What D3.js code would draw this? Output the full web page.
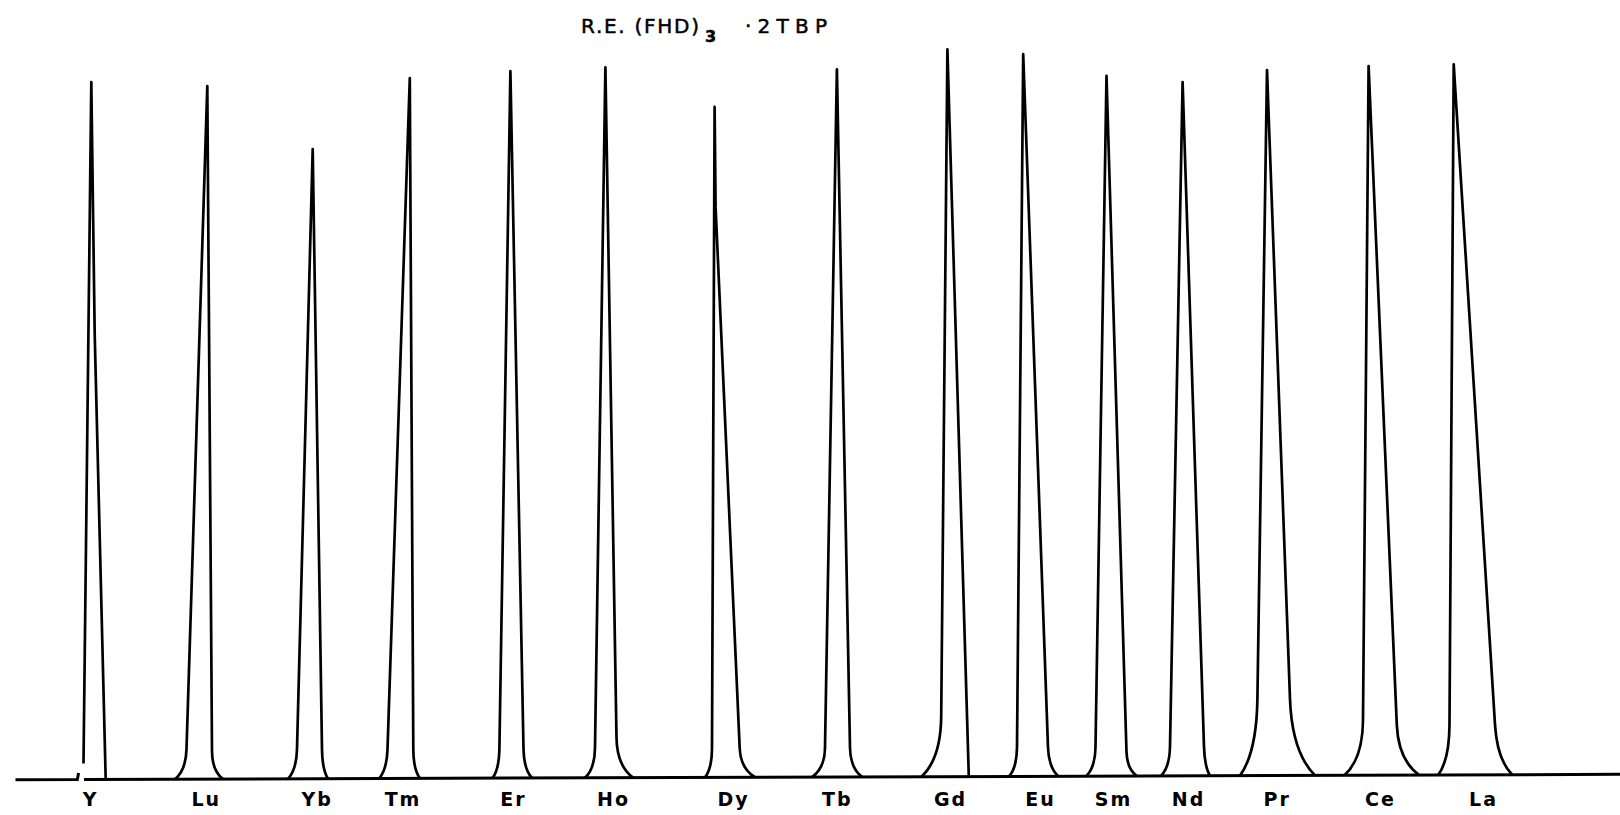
<!DOCTYPE html>
<html>
<head>
<meta charset="utf-8">
<script src="https://cdn.jsdelivr.net/npm/d3@7"></script>
<style>
  body { margin: 0; background: #fff; }
</style>
</head>
<body>
<div id="chart"></div>
<script>
// elution order of the rare earth chelates
const elements = ["Y", "Lu", "Yb", "Tm", "Er", "Ho", "Dy", "Tb", "Gd", "Eu", "Sm", "Nd", "Pr", "Ce", "La"];

// peak apex (retention, arbitrary units) and height (% of the Gd peak)
const apexPos = [9.13, 20.73, 31.27, 40.98, 51.04, 60.54, 71.46, 83.69, 94.74, 102.32, 110.65, 118.26, 126.7, 136.86, 145.37];
const apexHeight = [95.8, 95.2, 86.5, 96.2, 97.1, 97.6, 92.1, 97.2, 99.9, 99.2, 96.2, 95.3, 96.9, 97.4, 97.6];

// where each trace leaves and rejoins the baseline
const leftFoot = [8.35, 17.5, 28.8, 37.9, 49.25, 58.5, 70.5, 81.2, 92.16, 100.9, 108.62, 116.1, 124.0, 134.45, 143.82];
const leftFootHeight = [2.2, 0, 0, 0, 0, 0, 0, 0, 0, 0, 0, 0, 0, 0, 0];
const rightFoot = [10.57, 22.3, 32.8, 42.0, 53.2, 63.3, 75.5, 86.2, 96.88, 105.83, 113.68, 121.0, 131.5, 141.92, 151.22];

// shoulders where the tails bend into the straight flanks
const leftShoulderPos = [8.35, 18.65, 29.7, 38.75, 49.94, 59.5, 71.2, 82.5, 94.12, 101.7, 109.55, 117.0, 125.74, 136.3, 144.95];
const leftShoulderHeight = [2.2, 4.1, 4.1, 4.0, 4.0, 4.1, 4.0, 4.0, 8.3, 4.0, 4.0, 4.0, 10.5, 7.6, 6.9];
const rightShoulderPos = [10.57, 21.2, 32.2, 41.33, 52.35, 61.65, 73.97, 85.0, 96.88, 104.8, 112.65, 120.4, 129.0, 139.68, 149.5];
const rightShoulderHeight = [0, 3.8, 4.0, 4.0, 4.0, 5.5, 4.0, 4.0, 0, 4.0, 3.3, 4.0, 10.5, 6.9, 6.9];

// bends on the falling flank (null where the flank is straight)
const rightKneePos = [9.47, null, null, null, null, null, 71.56, null, null, null, null, null, null, null, null];
const rightKneeHeight = [61.2, null, null, null, null, null, 78.3, null, null, null, null, null, null, null, null];

// label positions under the baseline
const labelPos = [9.0, 20.57, 31.67, 40.25, 51.3, 61.3, 73.3, 83.67, 95.0, 104.0, 111.3, 118.8, 127.67, 138.0, 148.3];

// baseline pieces (pen lift just before the Y peak)
const baselineX = [[1.55, 7.73, 7.86], [8.4, 162]];
const baselineH = [[0, 0, 0.9], [0, 0]];

// slow recorder drift of the baseline (% units) across the run
const driftPos = [0, 162];
const driftLevel = [-0.25, 0.5];

const width = 1620, height = 815;
const zeroY = 778;

const svg = d3
  .select("#chart")
  .append("svg")
  .attr("width", width)
  .attr("height", height);

const x = d3.scaleLinear().domain([0, 162]).range([0, width]);
const y = d3.scaleLinear().domain([0, 100]).range([zeroY, 50]);
const drift = d3.scaleLinear().domain(driftPos).range(driftLevel);

// y pixel of a height measured above the drifting baseline
function yAt(xv, h) {
  return y(h + drift(xv));
}

// point on the line through (x1,h1)-(x2,h2) at height h
function along(x1, h1, x2, h2, h) {
  return x1 + ((x2 - x1) * (h - h1)) / (h2 - h1);
}

function peakPath(i) {
  const p = d3.path();
  const ax = apexPos[i], ah = apexHeight[i];
  const lsx = leftShoulderPos[i], lsh = leftShoulderHeight[i];
  p.moveTo(x(leftFoot[i]), yAt(leftFoot[i], leftFootHeight[i]));
  if (lsh > leftFootHeight[i] + 0.1) {
    // tail curving into the rising flank
    const ch = lsh * 0.3;
    const cx = along(lsx, lsh, ax, ah, ch);
    p.quadraticCurveTo(x(cx), yAt(cx, ch), x(lsx), yAt(lsx, lsh));
  }
  p.lineTo(x(ax), yAt(ax, ah));
  let kx = ax, kh = ah;
  if (rightKneePos[i] != null) {
    kx = rightKneePos[i];
    kh = rightKneeHeight[i];
    p.lineTo(x(kx), yAt(kx, kh));
  }
  const rsx = rightShoulderPos[i], rsh = rightShoulderHeight[i];
  p.lineTo(x(rsx), yAt(rsx, rsh));
  if (rsh > 0.1) {
    const ch = rsh * 0.3;
    const cx = along(rsx, rsh, kx, kh, ch);
    p.quadraticCurveTo(x(cx), yAt(cx, ch), x(rightFoot[i]), yAt(rightFoot[i], 0));
  }
  return p.toString();
}

// baseline
const baseLine = d3
  .line()
  .x((d) => x(d[0]))
  .y((d) => yAt(d[0], d[1]));

svg
  .selectAll(".base")
  .data(baselineX.map((xs, k) => xs.map((v, j) => [v, baselineH[k][j]])))
  .join("path")
  .attr("class", "base")
  .attr("d", baseLine)
  .attr("fill", "none")
  .attr("stroke", "#000")
  .attr("stroke-width", 3);

// peaks
svg
  .selectAll(".peak")
  .data(elements)
  .join("path")
  .attr("class", "peak")
  .attr("d", (d, i) => peakPath(i))
  .attr("fill", "none")
  .attr("stroke", "#000")
  .attr("stroke-width", 2.7)
  .attr("stroke-linejoin", "round");

// element labels as an axis
const labelAxis = d3
  .axisBottom(x)
  .tickValues(labelPos)
  .tickFormat((d, i) => elements[i])
  .tickSize(0)
  .tickPadding(15);

svg
  .append("g")
  .attr("transform", `translate(0, ${zeroY})`)
  .call(labelAxis)
  .call((g) => g.select(".domain").remove())
  .selectAll("text")
  .attr("font-family", "DejaVu Sans, sans-serif")
  .attr("font-size", 19)
  .attr("font-weight", "bold")
  .attr("letter-spacing", 2)
  .attr("fill", "#000");

// title
const title = svg
  .append("g")
  .attr("font-family", "DejaVu Sans, sans-serif")
  .attr("fill", "#000")
  .attr("stroke", "#000")
  .attr("stroke-width", 0.5);

title
  .append("text")
  .attr("x", 581)
  .attr("y", 33)
  .attr("font-size", 20)
  .attr("textLength", 118)
  .attr("lengthAdjust", "spacing")
  .text("R.E. (FHD)");

title
  .append("text")
  .attr("x", 705)
  .attr("y", 42)
  .attr("font-size", 16)
  .attr("font-weight", "bold")
  .text("3");

title
  .append("text")
  .attr("x", 745)
  .attr("y", 33)
  .attr("font-size", 20)
  .attr("textLength", 82)
  .attr("lengthAdjust", "spacing")
  .text("·2TBP");
</script>
</body>
</html>
